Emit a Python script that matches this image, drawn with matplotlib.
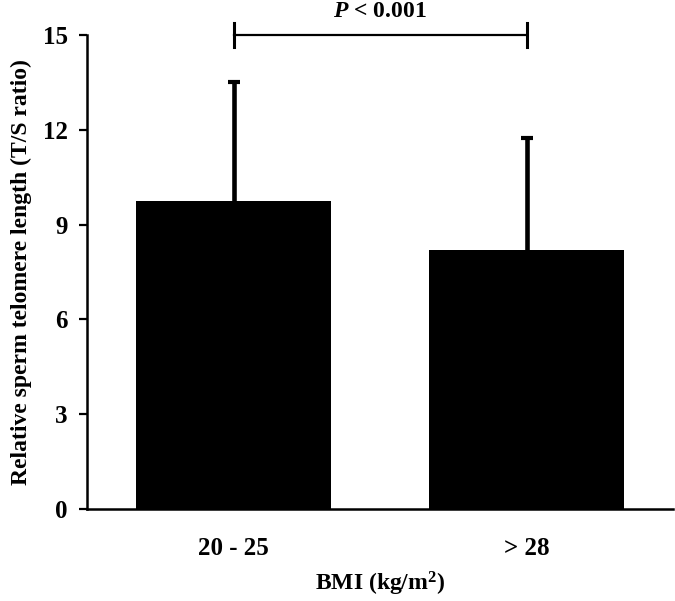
import numpy as np
import matplotlib.pyplot as plt

# bar data
groups = ['20 - 25', '> 28']
means = [9.75, 8.2]
sds = [3.75, 3.55]
p_text = '$\\mathit{P}$ < 0.001'

plt.rcParams['font.family'] = ['Liberation Serif', 'DejaVu Serif']
plt.rcParams['font.weight'] = 'bold'
plt.rcParams['mathtext.fontset'] = 'custom'
plt.rcParams['mathtext.it'] = 'Liberation Serif:italic:bold'
plt.rcParams['mathtext.rm'] = 'Liberation Serif:bold'

fig = plt.figure(figsize=(6.75, 6.01), dpi=100)
ax = fig.add_axes([0.129, 0.153, 0.868, 0.789])

x = np.arange(len(groups))
ax.bar(x, means, width=0.665, color='black', zorder=2)
# only the upper half of the error bars is drawn
eb = ax.errorbar(x, means, yerr=[np.zeros(len(sds)), sds], fmt='none', ecolor='black',
                 elinewidth=3.3, capsize=4.5, capthick=3, zorder=1)
eb[1][0].set_visible(False)

ax.set_xlim(-0.5, 1.5)
ax.set_ylim(0, 15)
ax.set_yticks([0, 3, 6, 9, 12, 15])
ax.set_xticks(x)
ax.set_xticklabels(groups)

ax.spines['top'].set_visible(False)
ax.spines['right'].set_visible(False)
ax.spines['left'].set_linewidth(1.8)
ax.spines['bottom'].set_linewidth(1.8)
ax.tick_params(axis='y', length=6, width=1.6, pad=8, labelsize=18)
ax.tick_params(axis='x', length=0, pad=20, labelsize=18)

ax.set_ylabel('Relative sperm telomere length (T/S ratio)', fontsize=17, fontweight='bold', labelpad=8)
ax.set_xlabel('BMI (kg/m$^{2}$)', fontsize=17, fontweight='bold', labelpad=7)

# significance bracket
ax.plot([x[0], x[1]], [15, 15], color='black', lw=1.6, clip_on=False)
for xi in x:
    ax.plot([xi, xi], [14.62, 15.38], color='black', lw=2.2, clip_on=False)
ax.text((x[0] + x[1]) / 2, 15.4, p_text, ha='center', va='bottom', fontsize=17, fontweight='bold')

fig.savefig('out.png', dpi=100)
